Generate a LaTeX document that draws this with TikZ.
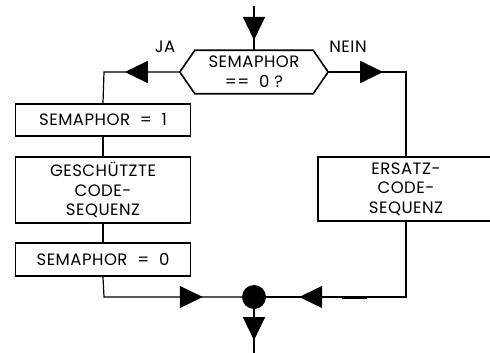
\documentclass[tikz,border=0pt]{standalone}
\usepackage{fontspec}
\setmainfont{Poppins}[LetterSpace=3]
\usetikzlibrary{arrows.meta,decorations.markings}
\tikzset{
  box/.style={draw, line width=1.6pt, minimum width=175pt, align=center, inner sep=0pt,
    font=\fontsize{16.5}{19.5}\selectfont},
  conn/.style={line width=1.2pt},
  arrowat/.style={postaction={decorate,decoration={markings,
    mark=at position #1 with {\arrow{Triangle[length=23pt,width=22pt]}}}}},
  lbl/.style={font=\fontsize{16.5}{20}\selectfont, inner sep=0pt},
}
\begin{document}
\begin{tikzpicture}[x=1pt,y=-1pt]
\useasboundingbox (0,0) rectangle (490,353);
% decision
\node[lbl, minimum width=148pt, minimum height=43pt, align=center] (hex) at (254,72) {SEMAPHOR\\== \ 0 ?};
\draw[line width=1.6pt] (hex.west) -- ([xshift=15pt]hex.north west) -- ([xshift=-15pt]hex.north east)
  -- (hex.east) -- ([xshift=-15pt]hex.south east) -- ([xshift=15pt]hex.south west) -- cycle;
\node[lbl] (ja) at (165,47) {JA};
\node[lbl] (nein) at (348,47) {NEIN};
% boxes
\node[box, minimum height=32pt] (b1) at (103,120) {SEMAPHOR \ = \ 1};
\node[box, minimum height=66pt] (b2) at (103,190) {GESCHÜTZTE\\CODE-\\SEQUENZ};
\node[box, minimum height=33pt] (b3) at (103,259.5) {SEMAPHOR \ = \ 0};
\node[box, minimum width=176pt, minimum height=64pt] (b4) at (406,189) {ERSATZ-\\CODE-\\SEQUENZ};
\node[circle, fill, inner sep=0pt, minimum size=24pt] (merge) at (254,297) {};
% coordinates
\coordinate (top) at (254,6);
\coordinate (jl) at (104,72);
\coordinate (nr) at (406,72);
\coordinate (lc) at (104,297);
\coordinate (rc) at (406,297);
\coordinate (bot) at (254,353);
\coordinate (d1) at (342,297);
\coordinate (d2) at (367,297);
% connectors
\draw[conn, arrowat=34pt] (top) -- (hex.north);
\draw[conn, arrowat=55pt] (hex.west) -- (jl) -- (b1.north);
\draw[conn, arrowat=55pt] (hex.east) -- (nr) -- (b4.north);
\draw[conn] (b1.south) -- (b2.north);
\draw[conn] (b2.south) -- (b3.north);
\draw[conn, arrowat=119pt] (b3.south) -- (lc) -- (merge.west);
\draw[conn, arrowat=182pt] (b4.south) -- (rc) -- (merge.east);
\draw[line width=3pt] (d1) -- (d2);
\draw[conn, arrowat=31pt] (merge.south) -- (bot);
\end{tikzpicture}
\end{document}
